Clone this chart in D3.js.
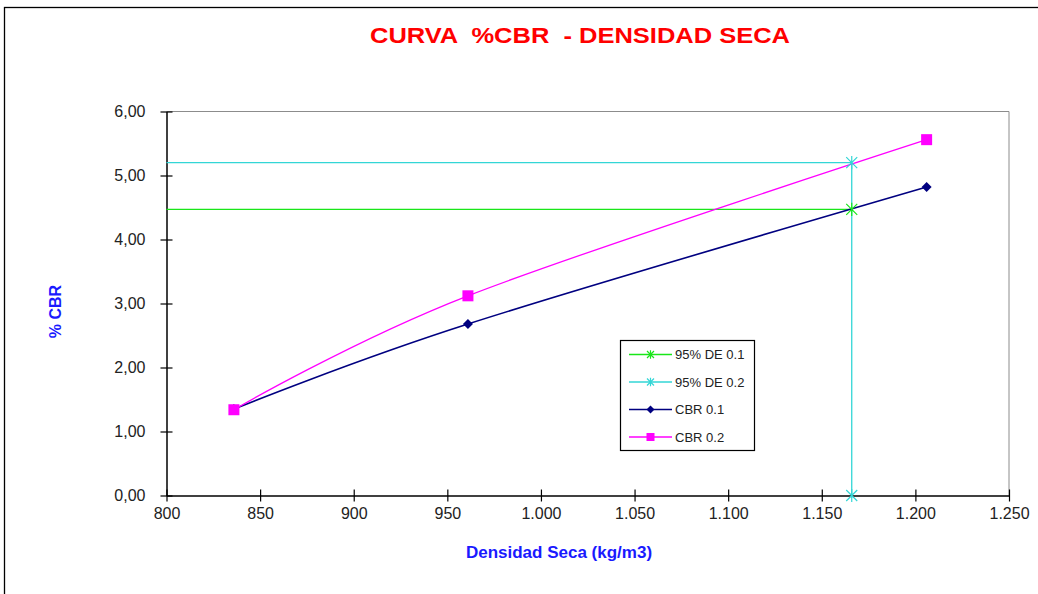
<!DOCTYPE html>
<html><head><meta charset="utf-8">
<script src="https://cdn.jsdelivr.net/npm/d3@7"></script>
<style>body{margin:0;background:#fff}svg{display:block}</style>
</head><body>
<svg id="c" width="1038" height="594"></svg>
<script>
// ---- data ----
const xTicks = [800, 850, 900, 950, 1000, 1050, 1100, 1150, 1200, 1250];
const yTicks = [0, 1, 2, 3, 4, 5, 6];
const cbr01X = [836, 961, 1206];
const cbr01Y = [1.35, 2.68, 4.82];
const cbr02X = [836, 961, 1206];
const cbr02Y = [1.34, 3.12, 5.56];
const de01X = [800, 1166];
const de01Y = [4.47, 4.47];
const de02X = [800, 1166, 1166];
const de02Y = [5.20, 5.20, 0];
const legendNames = ["95% DE 0.1", "95% DE 0.2", "CBR 0.1", "CBR 0.2"];

const svg = d3.select("#c");
const FONT = "Liberation Sans, Arial, sans-serif";
const fmtY = v => d3.format(".2f")(v).replace(".", ",");
const fmtX = v => d3.format(",")(v).replace(/,/g, ".");

const x = d3.scaleLinear().domain([800, 1250]).range([166.5, 1009]);
const y = d3.scaleLinear().domain([0, 6]).range([495.5, 111.5]);

// outer chart frame
svg.append("rect").attr("x", 4.5).attr("y", 7.5).attr("width", 1100).attr("height", 700)
  .attr("fill", "none").attr("stroke", "#000").attr("stroke-width", 1.3);

// title
svg.append("text").attr("x", 580).attr("y", 43).attr("text-anchor", "middle")
  .style("white-space", "pre")
  .attr("font-family", FONT).attr("font-weight", "bold")
  .attr("font-size", 21.5).attr("fill", "#ff0000")
  .attr("textLength", 420).attr("lengthAdjust", "spacingAndGlyphs")
  .text("CURVA  %CBR  - DENSIDAD SECA");

// plot frame (top & right gray)
svg.append("path")
  .attr("d", `M${x(800)},${y(6)}H${x(1250)}V${y(0)}`)
  .attr("fill", "none").attr("stroke", "#8c8c8c").attr("stroke-width", 1);

// axes
const gx = svg.append("g").attr("transform", `translate(0,${y(0)})`)
  .call(d3.axisBottom(x).tickValues(xTicks).tickFormat(fmtX).tickSizeInner(6).tickSizeOuter(0).tickPadding(6.5));
gx.selectAll(".tick line").attr("y1", -6).attr("y2", 6);
const gy = svg.append("g").attr("transform", `translate(${x(800)},0)`)
  .call(d3.axisLeft(y).tickValues(yTicks).tickFormat(fmtY).tickSizeInner(6).tickSizeOuter(0).tickPadding(15));
gy.selectAll(".tick line").attr("x1", -6).attr("x2", 6);
[gx, gy].forEach(g => {
  g.select(".domain").attr("stroke", "#000").attr("stroke-width", 1.5);
  g.selectAll(".tick line").attr("stroke", "#000").attr("stroke-width", 1.2);
  g.selectAll("text").attr("font-family", FONT)
    .attr("font-size", 16).attr("fill", "#222");
});

// axis titles
svg.append("text").attr("x", 559).attr("y", 557.5).attr("text-anchor", "middle")
  .attr("font-family", FONT).attr("font-weight", "bold")
  .attr("font-size", 17).attr("fill", "#1a1aff").text("Densidad Seca (kg/m3)");
svg.append("text").attr("transform", "translate(61,311.5) rotate(-90)").attr("text-anchor", "middle")
  .attr("font-family", FONT).attr("font-weight", "bold")
  .attr("font-size", 16).attr("fill", "#1a1aff").text("% CBR");

// markers
function star(g, cx, cy, col, r) {
  const p = `M${cx - r},${cy - r}L${cx + r},${cy + r}M${cx - r},${cy + r}L${cx + r},${cy - r}M${cx},${cy - r * 1.2}L${cx},${cy + r * 1.2}`;
  g.append("path").attr("d", p).attr("stroke", col).attr("stroke-width", 1.2).attr("fill", "none");
}
function diamond(g, cx, cy, col, r) {
  g.append("path").attr("d", `M${cx},${cy - r}L${cx + r},${cy}L${cx},${cy + r}L${cx - r},${cy}Z`).attr("fill", col);
}
function square(g, cx, cy, col, r) {
  g.append("rect").attr("x", cx - r).attr("y", cy - r).attr("width", 2 * r).attr("height", 2 * r).attr("fill", col);
}

const series = [
  {name: legendNames[0], xs: de01X, ys: de01Y, col: "#19e619", marker: star, r: 5.5, curve: d3.curveLinear},
  {name: legendNames[1], xs: de02X, ys: de02Y, col: "#33d6d6", marker: star, r: 5.5, curve: d3.curveLinear},
  {name: legendNames[2], xs: cbr01X, ys: cbr01Y, col: "#000080", marker: diamond, r: 5, curve: d3.curveCatmullRom.alpha(0)},
  {name: legendNames[3], xs: cbr02X, ys: cbr02Y, col: "#ff00ff", marker: square, r: 5.5, curve: d3.curveCatmullRom.alpha(0)}
];

const plot = svg.append("g");
series.forEach(s => {
  const pts = s.xs.map((v, i) => [v, s.ys[i]]);
  plot.append("path").datum(pts)
    .attr("d", d3.line().x(d => x(d[0])).y(d => y(d[1])).curve(s.curve))
    .attr("fill", "none").attr("stroke", s.col).attr("stroke-width", s.col === "#000080" ? 1.6 : 1.3);
});
series.forEach(s => {
  s.xs.forEach((v, i) => { if (v > 800) s.marker(plot, x(v), y(s.ys[i]), s.col, s.r); });
});

// legend
const lg = svg.append("g");
lg.append("rect").attr("x", 620.5).attr("y", 340.5).attr("width", 134).attr("height", 110)
  .attr("fill", "#fff").attr("stroke", "#000").attr("stroke-width", 1.2);
series.forEach((s, i) => {
  const cy = 354.5 + i * 27.5;
  lg.append("line").attr("x1", 629).attr("x2", 672).attr("y1", cy).attr("y2", cy)
    .attr("stroke", s.col).attr("stroke-width", 1.3);
  s.marker(lg, 650.5, cy, s.col, s.marker === star ? 3.5 : 4);
  lg.append("text").attr("x", 675).attr("y", cy + 4.5).attr("font-family", FONT)
    .attr("font-size", 13).attr("fill", "#222").text(s.name);
});
</script>
</body></html>
